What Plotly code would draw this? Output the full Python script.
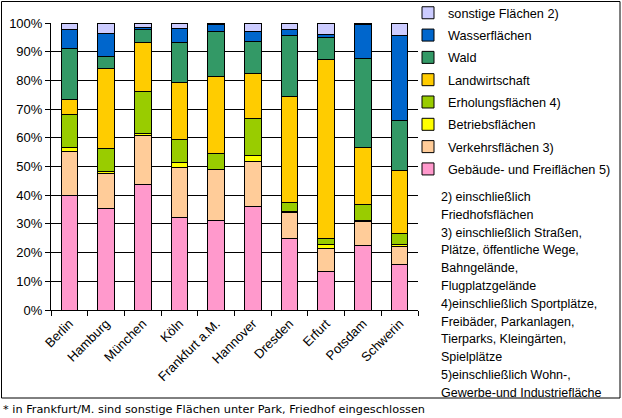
import plotly.graph_objects as go

cities = ["Berlin", "Hamburg", "München", "Köln", "Frankfurt a.M.", "Hannover",
          "Dresden", "Erfurt", "Potsdam", "Schwerin"]
gebaeude = [40.0, 35.5, 43.9, 32.4, 31.1, 35.9, 24.8, 13.5, 22.6, 15.9]
verkehr = [15.1, 11.9, 16.8, 17.2, 17.7, 15.8, 9.0, 8.0, 8.4, 6.2]
betrieb = [1.4, 1.0, 0.7, 1.7, 0.0, 2.2, 0.5, 1.4, 0.3, 0.8]
erholung = [11.5, 7.7, 14.6, 8.0, 5.9, 13.0, 3.3, 2.1, 5.3, 3.9]
landw = [5.3, 28.0, 17.1, 19.9, 26.6, 15.4, 36.7, 62.2, 19.9, 21.9]
wald = [17.7, 4.4, 4.7, 13.9, 15.7, 11.2, 21.3, 7.7, 31.0, 17.5]
wasser = [6.6, 7.8, 0.6, 4.9, 2.4, 3.5, 2.1, 1.0, 11.9, 29.4]
sonstige = [2.4, 3.7, 1.6, 2.0, 0.6, 3.0, 2.3, 4.1, 0.6, 4.4]

series = [
    ("Gebäude- und Freiflächen 5)", gebaeude, "#FF99CC"),
    ("Verkehrsflächen 3)", verkehr, "#FFCC99"),
    ("Betriebsflächen", betrieb, "#FFFF00"),
    ("Erholungsflächen 4)", erholung, "#99CC00"),
    ("Landwirtschaft", landw, "#FFCC00"),
    ("Wald", wald, "#339966"),
    ("Wasserflächen", wasser, "#0066CC"),
    ("sonstige Flächen 2)", sonstige, "#CCCCFF"),
]

notes = ["2) einschließlich", "Friedhofsflächen", "3) einschließlich Straßen,",
         "Plätze, öffentliche Wege,", "Bahngelände,", "Flugplatzgelände",
         "4)einschließlich Sportplätze,", "Freibäder, Parkanlagen,",
         "Tierparks, Kleingärten,", "Spielplätze", "5)einschließlich Wohn-,",
         "Gewerbe-und Industriefläche"]
footnote = "* in Frankfurt/M. sind sonstige Flächen unter Park, Friedhof eingeschlossen"

FONT = "Liberation Sans, Arial, sans-serif"
W, H = 622, 418
L, R, T, B = 51, 418, 23, 310

def px(x):
    return (x - L) / (R - L)

def py(y):
    return (B - y) / (B - T)

fig = go.Figure()
n = len(series)
for i, (name, vals, col) in enumerate(series):
    fig.add_trace(go.Bar(x=cities, y=vals, name=name, legendgroup=name, legendrank=n - i,
                         marker=dict(color=col, line=dict(color="black", width=1))))

annotations = []
for i, line in enumerate(notes):
    annotations.append(dict(text=line, x=px(439), y=py(197 + i * 17.8), xref="paper", yref="paper",
                            xanchor="left", yanchor="middle", showarrow=False,
                            font=dict(family=FONT, size=12.5, color="black")))
annotations.append(dict(text=footnote, x=px(1), y=py(409), xref="paper", yref="paper",
                        xanchor="left", yanchor="middle", showarrow=False,
                        font=dict(family="DejaVu Sans, Verdana, sans-serif", size=11.3, color="black")))

fig.update_layout(
    width=W, height=H,
    margin=dict(l=L, r=W - R, t=T, b=H - B, autoexpand=False),
    barmode="stack", bargap=0.55,
    plot_bgcolor="white", paper_bgcolor="white",
    font=dict(family=FONT, size=12, color="black"),
    legend=dict(x=px(408), y=py(-2), xanchor="left", yanchor="top",
                traceorder="grouped", tracegroupgap=2.8,
                font=dict(family=FONT, size=12.7), bgcolor="rgba(0,0,0,0)"),
    annotations=annotations,
    shapes=[dict(type="rect", xref="paper", yref="paper", x0=px(1.5), x1=px(620), y0=py(1.5), y1=py(398),
                 line=dict(color="black", width=1))],
)
fig.update_xaxes(showline=True, linecolor="black", linewidth=1, ticks="outside", ticklen=5,
                 tickcolor="black", tickson="boundaries", tickangle=-45, automargin=False,
                 tickfont=dict(family=FONT, size=13), showgrid=False)
fig.update_yaxes(range=[0, 100], dtick=10, ticksuffix="%", showline=True, linecolor="black",
                 linewidth=1, ticks="outside", ticklen=5, tickcolor="black", automargin=False,
                 showgrid=True, gridcolor="black", gridwidth=1, zeroline=False,
                 tickfont=dict(family=FONT, size=13))

fig.write_html("out.html")
